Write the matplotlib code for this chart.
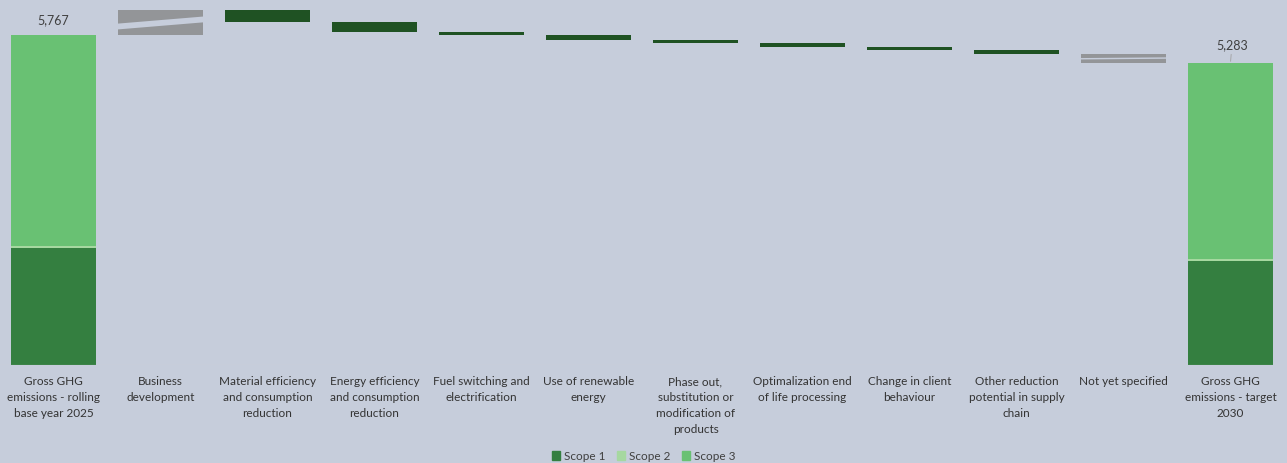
import matplotlib.pyplot as plt
from matplotlib.patches import Patch

plt.rcParams['font.family'] = ['Lato', 'DejaVu Sans']

# chart data
labels = [
    "Gross GHG\nemissions - rolling\nbase year 2025",
    "Business\ndevelopment",
    "Material efficiency\nand consumption\nreduction",
    "Energy efficiency\nand consumption\nreduction",
    "Fuel switching and\nelectrification",
    "Use of renewable\nenergy",
    "Phase out,\nsubstitution or\nmodification of\nproducts",
    "Optimalization end\nof life processing",
    "Change in client\nbehaviour",
    "Other reduction\npotential in supply\nchain",
    "Not yet specified",
    "Gross GHG\nemissions - target\n2030",
]
base_scope1 = 2046
base_scope2 = 35
base_scope3 = 3686
target_scope1 = 1820
target_scope2 = 35
target_scope3 = 3428
business_dev = 442
reductions = [220, 170, 60, 75, 60, 75, 50, 60]
not_specified = 156

bg = '#C6CDDB'
c1 = '#347F40'
c2 = '#A6D8A0'
c3 = '#69C173'
c_red = '#1F5223'
c_gray = '#939598'
w = 0.8

fig = plt.figure(figsize=(12.87, 4.63), dpi=100, facecolor=bg)
ax = fig.add_axes([0, 98 / 463, 1284 / 1287, 365 / 463])
ax.set_facecolor(bg)

# starting bar
ax.bar(0, base_scope1, w, color=c1)
ax.bar(0, base_scope2, w, bottom=base_scope1, color=c2)
ax.bar(0, base_scope3, w, bottom=base_scope1 + base_scope2, color=c3)
base_total = base_scope1 + base_scope2 + base_scope3

def gray_bar(x, bottom, height, gap):
    ax.bar(x, height, w, bottom=bottom, color=c_gray)
    # slanted gap through the gray bar
    l0, l1, r0, r1 = gap
    ax.fill([x - w / 2, x + w / 2, x + w / 2, x - w / 2],
            [bottom + l0 * height, bottom + r0 * height,
             bottom + r1 * height, bottom + l1 * height],
            color=bg, lw=0)

gray_bar(1, base_total, business_dev, (0.22, 0.45, 0.50, 0.73))
level = base_total + business_dev

for i, r in enumerate(reductions):
    ax.bar(2 + i, r, w, bottom=level - r, color=c_red)
    level -= r

gray_bar(10, level - not_specified, not_specified, (0.36, 0.52, 0.44, 0.60))
level -= not_specified

ax.bar(11, target_scope1, w, color=c1)
ax.bar(11, target_scope2, w, bottom=target_scope1, color=c2)
ax.bar(11, target_scope3, w, bottom=target_scope1 + target_scope2, color=c3)
target_total = target_scope1 + target_scope2 + target_scope3

ax.annotate(f"{base_total:,}", (0, base_total), xytext=(0, 6.5),
            textcoords='offset points', ha='center', va='bottom',
            fontsize=9, color='#404040')
ax.annotate(f"{target_total:,}", (11, target_total), xytext=(1, 8),
            textcoords='offset points', ha='center', va='bottom',
            fontsize=9, color='#404040',
            arrowprops=dict(arrowstyle='-', color='#A0A0A0', lw=0.6,
                            shrinkA=0, shrinkB=1))

ax.set_xlim(-0.5, 11.5)
ax.set_ylim(0, 365 * base_total / 330)
ax.set_xticks(range(len(labels)))
ax.set_xticklabels(labels, fontsize=8.5, color='#333333', linespacing=1.55, va='top')
ax.tick_params(axis='x', length=0, pad=8)
ax.set_yticks([])
for s in ax.spines.values():
    s.set_visible(False)
ax.axhline(0, color='#D9D9D9', lw=0.8)

handles = [Patch(color=c1, label='Scope 1'), Patch(color=c2, label='Scope 2'),
           Patch(color=c3, label='Scope 3')]
fig.legend(handles=handles, loc='lower center', bbox_to_anchor=(0.5, -0.02), ncol=3,
           frameon=False, fontsize=8.5, handlelength=0.7, handleheight=0.7,
           handletextpad=0.3, columnspacing=1.0, labelcolor='#404040')

fig.savefig('out.png', dpi=100, facecolor=bg)
